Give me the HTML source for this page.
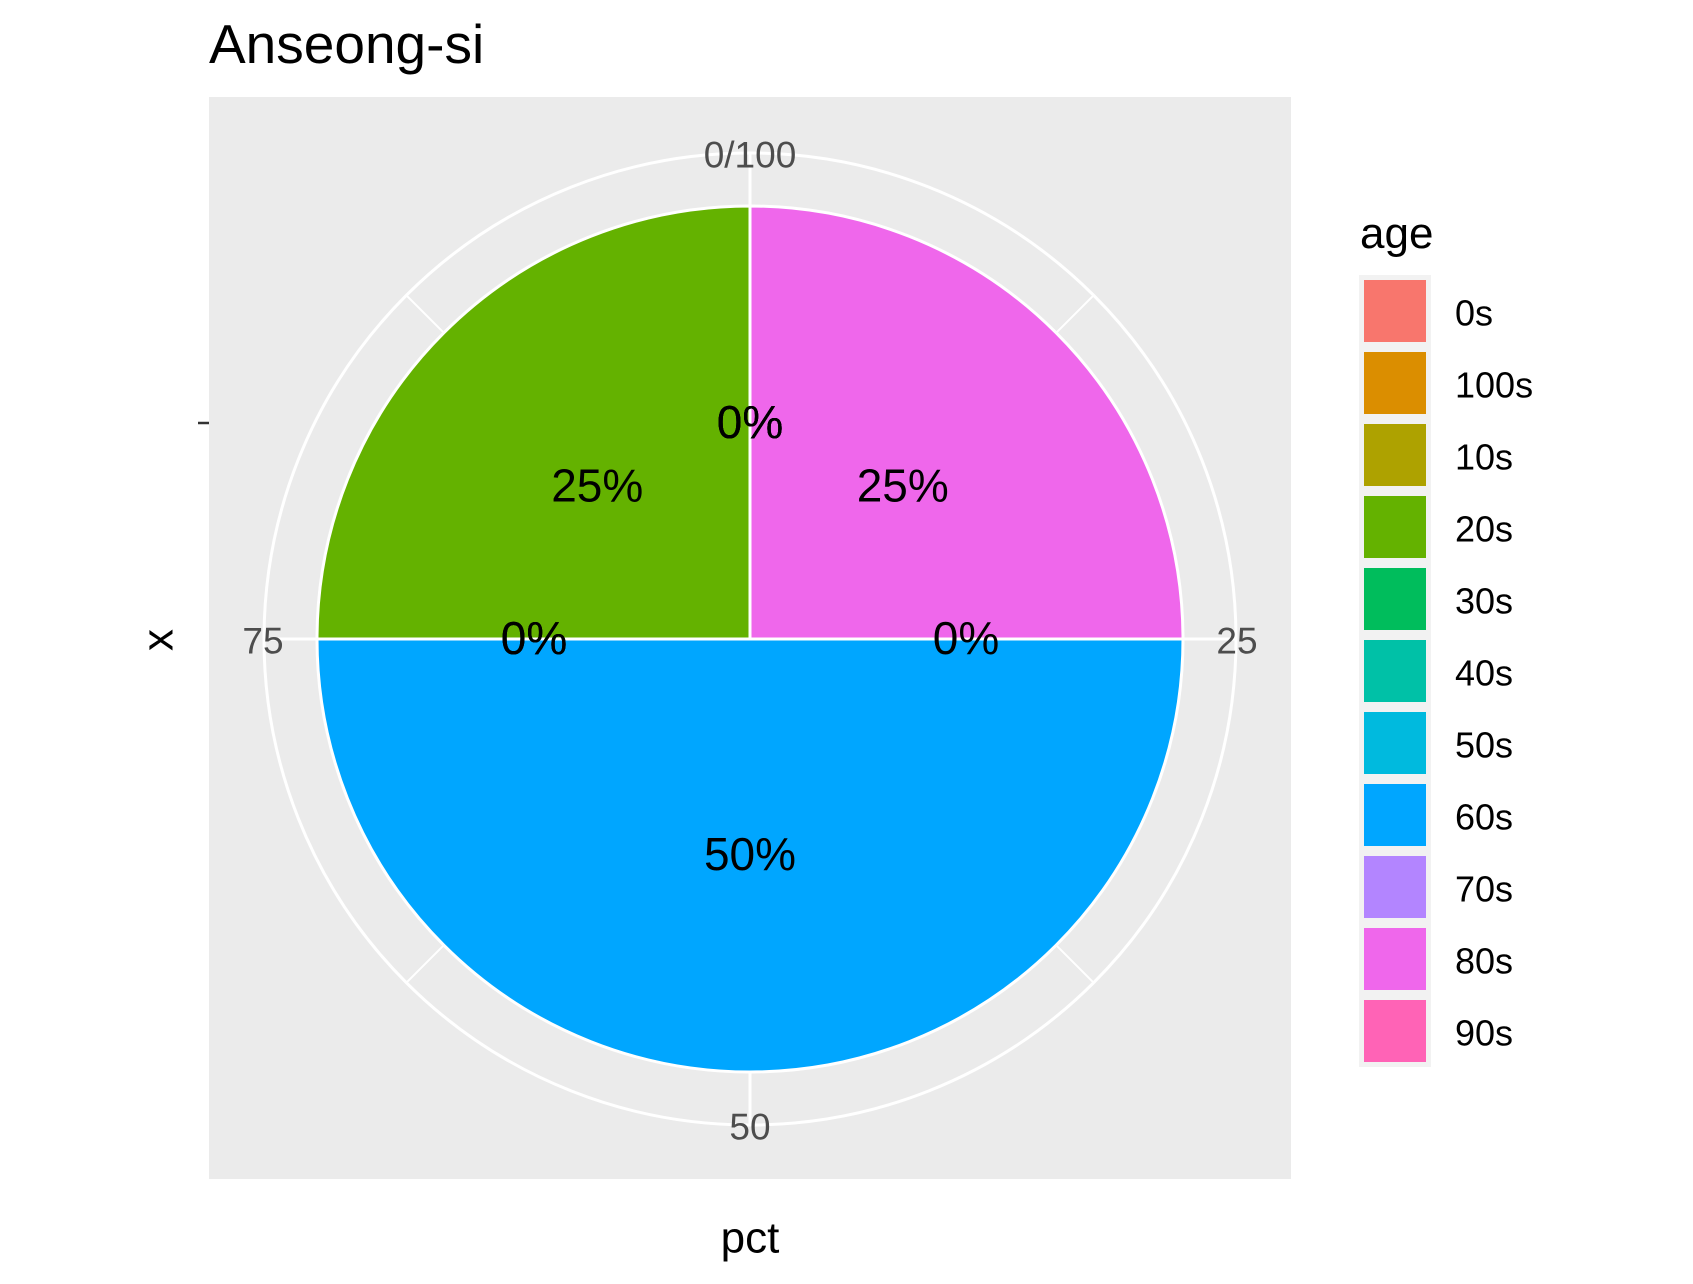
<!DOCTYPE html>
<html><head><meta charset="utf-8"><style>
html,body{margin:0;padding:0;background:#fff;}
svg{display:block;font-family:"Liberation Sans",Arial,sans-serif;}
</style></head><body>
<svg id="chart" width="1693" height="1284" viewBox="0 0 1693 1284">
<text x="209" y="63" font-size="55" fill="#000">Anseong-si</text>
<rect x="209" y="97" width="1082" height="1082" fill="#ebebeb"/>
<g id="grid"></g>
<g id="slices"></g>
<g id="labels"></g>
<g id="ticks"></g>
<line x1="198" y1="423" x2="209" y2="423" stroke="#333" stroke-width="2.5"/>
<text x="158" y="640" font-size="44" text-anchor="middle" dominant-baseline="central" transform="rotate(-90 158 640)">x</text>
<text x="750" y="1238" font-size="44" text-anchor="middle" dominant-baseline="central">pct</text>
<text x="1360" y="248" font-size="44">age</text>
<g id="legend"></g>
</svg>
<script>
const categories = ["0s","100s","10s","20s","30s","40s","50s","60s","70s","80s","90s"];
const colors = ["#F8766D","#DB8E00","#AEA200","#64B200","#00BD5C","#00C1A7","#00BADE","#00A6FF","#B385FF","#EF67EB","#FF63B6"];
const values = [0,0,0,25,0,0,0,50,0,25,0];
const tickValues = [0,25,50,75];
const tickLabels = ["0/100","25","50","75"];

const NS="http://www.w3.org/2000/svg";
const cx=750, cy=639, R=433, Rout=486;
function ang(p){return p/100*2*Math.PI;}
function pt(p,r){const a=ang(p);return [cx+r*Math.sin(a), cy-r*Math.cos(a)];}
function mk(tag,attrs,parent){const e=document.createElementNS(NS,tag);for(const k in attrs)e.setAttribute(k,attrs[k]);parent.appendChild(e);return e;}

const grid=document.getElementById('grid');
const gc=mk('circle',{cx:cx,cy:cy,r:Rout,fill:'none',stroke:'#fff','stroke-width':3},grid);


for(let i=0;i<8;i++){
  const p=i*12.5; const a=pt(p,Rout);
  const l=mk('line',{x1:cx,y1:cy,x2:a[0],y2:a[1],stroke:'#fff','stroke-width':i%2?2:3},grid);
  
  
}

const slices=document.getElementById('slices');
const labels=document.getElementById('labels');
let cum=0;
for(let i=categories.length-1;i>=0;i--){
  const v=values[i], start=cum, end=cum+v;
  if(v>0){
    let d;
    if(v>=100){d=`M${cx-R},${cy}A${R},${R} 0 1 1 ${cx+R},${cy}A${R},${R} 0 1 1 ${cx-R},${cy}Z`;}
    else{const a=pt(start,R), b=pt(end,R);
      d=`M${cx},${cy}L${a[0]},${a[1]}A${R},${R} 0 ${v>50?1:0} 1 ${b[0]},${b[1]}Z`;}
    const s=mk('path',{d:d,fill:colors[i],stroke:'#fff','stroke-width':3},slices);
    
    
  }
  const m=pt((start+end)/2,216);
  const t=mk('text',{x:m[0],y:m[1]-1,'font-size':46,'text-anchor':'middle','dominant-baseline':'central',fill:'#000'},labels);
  t.textContent=Math.round(v)+'%';
  
  
  cum=end;
}

const ticks=document.getElementById('ticks');
tickValues.forEach((tv,i)=>{
  const vert=(tv%50===0);
  const p=pt(tv,vert?486:487);
  const t=mk('text',{x:p[0],y:p[1]+2,'font-size':37,'text-anchor':'middle','dominant-baseline':'central',fill:'#4d4d4d'},ticks);
  t.textContent=tickLabels[i];
  
  
});

const legend=document.getElementById('legend');
categories.forEach((c,i)=>{
  const y=280+i*72;
  const bg=mk('rect',{x:1359,y:y-5,width:72,height:72,fill:'#f2f2f2'},legend);
  
  
  const k=mk('rect',{x:1364,y:y,width:62,height:62,fill:colors[i]},legend);
  
  
  const t=mk('text',{x:1455,y:y+33,'font-size':36,'dominant-baseline':'central',fill:'#000'},legend);
  t.textContent=c;
  
  
});
</script>
</body></html>
